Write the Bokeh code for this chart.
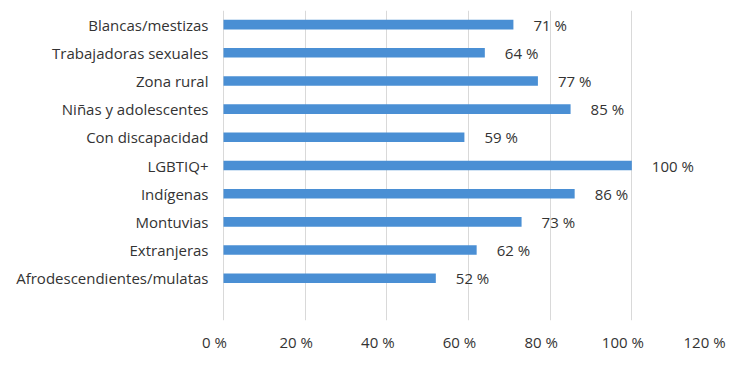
from bokeh.plotting import figure
from bokeh.models import Range1d, FixedTicker, ColumnDataSource
from bokeh.core.properties import value
from bokeh.embed import file_html
from bokeh.resources import INLINE

categories = ["Blancas/mestizas", "Trabajadoras sexuales", "Zona rural",
              "Niñas y adolescentes", "Con discapacidad", "LGBTIQ+",
              "Indígenas", "Montuvias", "Extranjeras", "Afrodescendientes/mulatas"]
values = [71, 64, 77, 85, 59, 100, 86, 73, 62, 52]
x_ticks = [0, 20, 40, 60, 80, 100, 120]

n = len(categories)
ypos = [n - i for i in range(n)]  # top row highest; row 0 empty at bottom
src = ColumnDataSource(dict(
    y=ypos, v=values, lab=[f"{v} %" for v in values], cat=categories))

FONT = "Open Sans"
TXT = "#333333"
FS = "15px"
SHIFT = 2.2  # tick labels sit slightly left of their gridlines, as in the original

p = figure(width=740, height=372, output_backend="svg", toolbar_location=None,
           x_range=Range1d(-SHIFT, 120), y_range=Range1d(-0.5, n + 0.5),
           min_border_left=214, min_border_right=27, min_border_top=10,
           min_border_bottom=52)
p.outline_line_color = None

lab_ticks = [round(t - SHIFT, 1) for t in x_ticks]
p.xaxis.ticker = FixedTicker(ticks=lab_ticks)
p.xaxis.major_label_overrides = {lt: f"{t} %" for lt, t in zip(lab_ticks, x_ticks)}
p.xaxis.axis_line_color = None
p.xaxis.major_tick_line_color = None
p.xaxis.minor_tick_line_color = None
p.xaxis.major_label_standoff = 5
p.xaxis.major_label_text_font = FONT
p.xaxis.major_label_text_font_size = FS
p.xaxis.major_label_text_color = TXT

p.xgrid.ticker = FixedTicker(ticks=x_ticks)
p.xgrid.grid_line_color = "#d9d9d9"
p.xgrid.grid_line_width = 1
p.ygrid.grid_line_color = None

p.hbar(y="y", left=0, right="v", height=0.34, source=src,
       color="#4a8fd4", line_color=None)
p.text(x="v", y="y", text="lab", source=src, x_offset=20,
       text_baseline="middle", text_align="left",
       text_font=value(FONT), text_font_size=FS, text_color=TXT)

p.yaxis.ticker = FixedTicker(ticks=ypos)
p.yaxis.major_label_overrides = {y: c for y, c in zip(ypos, categories)}
p.yaxis.axis_line_color = None
p.yaxis.major_tick_line_color = None
p.yaxis.minor_tick_line_color = None
p.yaxis.major_label_standoff = 0
p.yaxis.major_label_text_font = FONT
p.yaxis.major_label_text_font_size = FS
p.yaxis.major_label_text_color = TXT

open("out.html", "w").write(file_html(p, INLINE))
